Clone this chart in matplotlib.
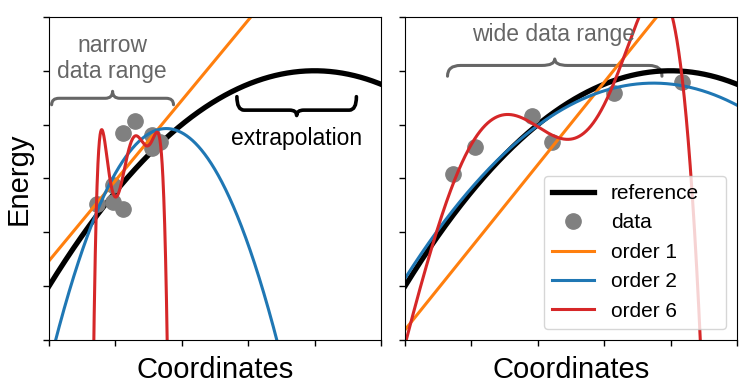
import numpy as np
import matplotlib
matplotlib.use("Agg")
import matplotlib.pyplot as plt
from matplotlib.path import Path
from matplotlib.patches import PathPatch

plt.rcParams['font.family'] = ['Liberation Sans', 'DejaVu Sans']

# values (x in 0..5, y in 0..6)
ref_x = [0, 0.5, 1.0, 1.5, 2.0, 2.5, 3.0, 3.5, 4.0, 4.5, 5.0]
ref_y = [1.0, 1.94, 2.75, 3.44, 4.0, 4.44, 4.75, 4.94, 5.0, 4.94, 4.75]

# narrow data range (left)
narrow_x = [0.72, 0.96, 0.97, 1.12, 1.12, 1.29, 1.55, 1.55, 1.67]
narrow_y = [2.52, 2.88, 2.56, 2.43, 3.84, 4.07, 3.81, 3.56, 3.68]

narrow_o1_x = [0, 3.04]
narrow_o1_y = [1.47, 6.0]

narrow_o2_x = [0.12, 0.32, 0.49, 0.69, 0.94, 1.30, 1.80, 2.17, 2.43, 2.68,
               2.93, 3.18, 3.42]
narrow_o2_y = [0.03, 0.99, 1.70, 2.38, 2.91, 3.55, 3.80, 3.70, 3.38, 2.85,
               2.04, 1.05, 0.01]

narrow_o6_x = [0.675, 0.783, 0.994, 1.27, 1.496, 1.631, 1.78]
narrow_o6_y = [0.0, 3.89, 2.66, 3.76, 3.61, 3.86, 0.0]

# wide data range (right)
wide_x = [0.73, 1.05, 1.92, 2.21, 3.15, 4.17]
wide_y = [3.08, 3.59, 4.16, 3.68, 4.59, 4.80]

wide_o1_x = [0, 3.79]
wide_o1_y = [0.19, 6.0]

wide_o2_x = [0, 1.0, 1.9, 2.5, 3.59, 4.3, 5.0]
wide_o2_y = [1.15, 2.82, 3.88, 4.37, 4.78, 4.70, 4.35]

wide_o6_x = [0.025, 0.276, 0.427, 0.728, 0.878, 1.054, 1.255, 1.53, 1.78,
             1.98, 2.18, 2.435, 2.685, 2.887, 3.04, 3.163, 3.263, 3.51,
             3.99, 4.176, 4.318, 4.443]
wide_o6_y = [0.0, 1.24, 1.86, 2.79, 3.34, 3.75, 4.06, 4.22, 4.18, 3.99,
             3.78, 3.68, 3.81, 4.09, 4.46, 4.89, 5.20, 6.0, 6.0, 4.80,
             3.10, 0.0]

C1, C2, C6 = '#ff7f0e', '#1f77b4', '#d62728'
xs = np.linspace(-0.2, 5.2, 2000)


def smooth(x, y, order):
    # draw the read samples as the polynomial of the order the legend names
    return np.polyval(np.polyfit(x, y, order), xs)


def brace(ax, x0, x1, y_end, y_mid, y_tip, color, lw):
    xm = (x0 + x1) / 2
    r = (x1 - x0) * 0.06
    verts = [(x0, y_end), (x0, y_mid), (x0 + r, y_mid), (xm - r, y_mid),
             (xm, y_mid), (xm, y_tip), (xm, y_mid), (xm + r, y_mid),
             (x1 - r, y_mid), (x1, y_mid), (x1, y_end)]
    codes = [Path.MOVETO, Path.CURVE3, Path.CURVE3, Path.LINETO,
             Path.CURVE3, Path.CURVE3, Path.CURVE3, Path.CURVE3,
             Path.LINETO, Path.CURVE3, Path.CURVE3]
    ax.add_patch(PathPatch(Path(verts, codes), fc='none', ec=color, lw=lw,
                           capstyle='round', joinstyle='round'))


def panel(ax, px, py, o1, o2, o6, legend=False):
    ax.plot(xs, smooth(ref_x, ref_y, 2), color='black', lw=3.8,
            label='reference')
    ax.plot(px, py, 'o', color='gray', ms=11, label='data')
    ax.plot(xs, smooth(o1[0], o1[1], 1), color=C1, lw=2.2, label='order 1')
    ax.plot(xs, smooth(o2[0], o2[1], 2), color=C2, lw=2.2, label='order 2')
    ax.plot(xs, smooth(o6[0], o6[1], 6), color=C6, lw=2.2, label='order 6')
    ax.set_xlim(0, 5)
    ax.set_ylim(0, 6)
    ax.set_xticks(range(6))
    ax.set_yticks(range(7))
    ax.set_xticklabels([])
    ax.set_yticklabels([])
    ax.tick_params(direction='out', length=4, width=1)
    ax.set_xlabel('Coordinates', fontsize=21, labelpad=4)
    if legend:
        ax.legend(loc='lower left', fontsize=15, mode='expand',
                  bbox_to_anchor=(0.419, 0.034, 0.548, 0.2),
                  borderaxespad=0)


fig = plt.figure(figsize=(7.47, 3.88), dpi=100)
ax1 = fig.add_axes([0.0656, 0.1237, 0.4444, 0.8325])
ax2 = fig.add_axes([0.5422, 0.1237, 0.4444, 0.8325])

panel(ax1, narrow_x, narrow_y, (narrow_o1_x, narrow_o1_y),
      (narrow_o2_x, narrow_o2_y), (narrow_o6_x, narrow_o6_y))
ax1.set_ylabel('Energy', fontsize=21, labelpad=4)
ax1.text(0.95, 5.23, 'narrow\ndata range', color='#666666', fontsize=16.5,
         ha='center', va='center', linespacing=1.2)
brace(ax1, 0.04, 1.875, 4.37, 4.49, 4.62, '#666666', 2.2)
brace(ax1, 2.83, 4.63, 4.52, 4.27, 4.17, 'black', 2.6)
ax1.text(3.73, 3.75, 'extrapolation', fontsize=16.5, ha='center',
         va='center')

panel(ax2, wide_x, wide_y, (wide_o1_x, wide_o1_y), (wide_o2_x, wide_o2_y),
      (wide_o6_x, wide_o6_y), legend=True)
ax2.text(2.23, 5.67, 'wide data range', color='#666666', fontsize=16.5,
         ha='center', va='center')
brace(ax2, 0.64, 3.87, 4.90, 5.10, 5.22, '#666666', 2.2)

fig.savefig('out.png', dpi=100)
